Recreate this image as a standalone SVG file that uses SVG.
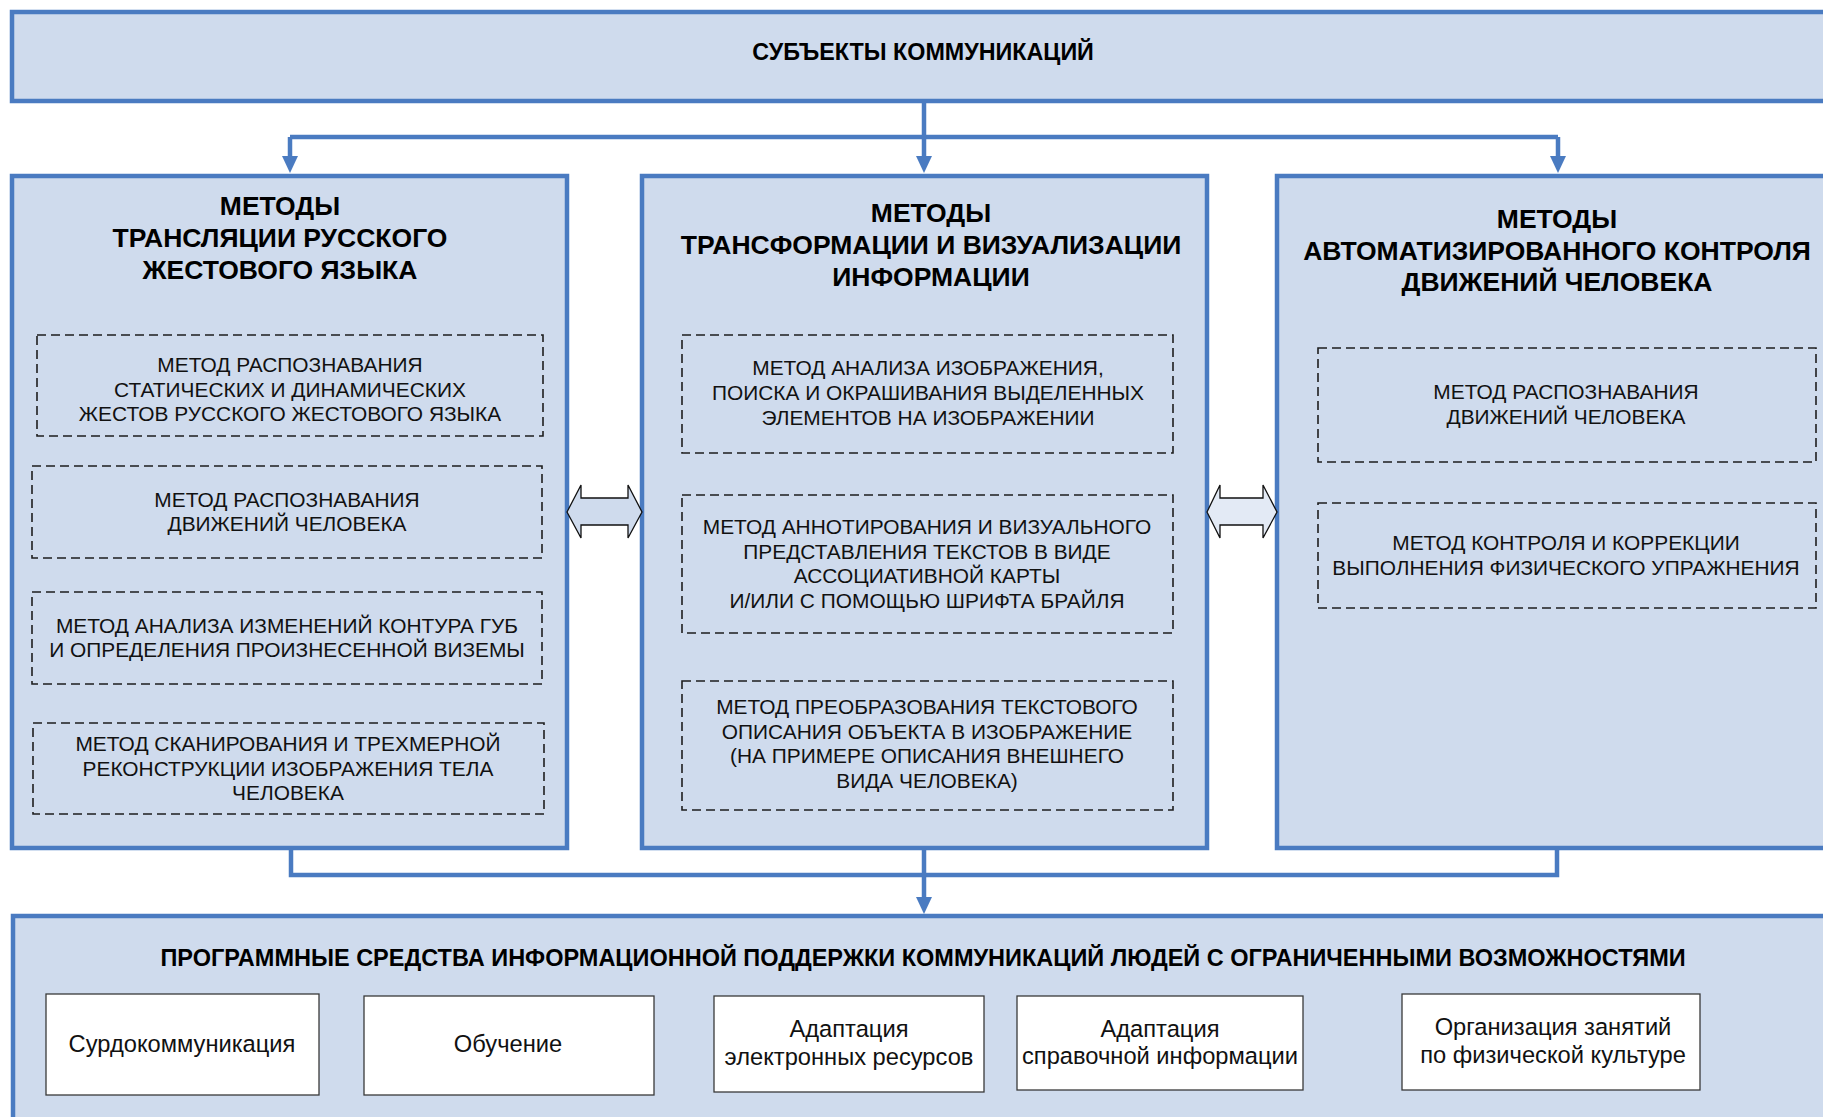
<svg xmlns="http://www.w3.org/2000/svg" width="1823" height="1117" viewBox="0 0 1823 1117">
<defs>
<style>
.box{fill:#cfdbed;stroke:#4a7bc1;stroke-width:4.5}
.dash{fill:none;stroke:#1e1e1e;stroke-width:1.6;stroke-dasharray:9 5}
.wbox{fill:#ffffff;stroke:#3a3a3a;stroke-width:1.3}
.conn{fill:none;stroke:#4a7bc1;stroke-width:4.5}
.dbl{stroke:#111;stroke-width:1.3;stroke-linejoin:miter}
text{font-family:"Liberation Sans",Arial,sans-serif;fill:#000;text-anchor:middle}
.title{font-weight:bold;font-size:26.5px}
.head{font-weight:bold;font-size:23.3px}
.txt{font-size:20.9px;fill:#111}
.lbl{font-size:23.7px;fill:#111}
</style>
<marker id="ah" markerUnits="userSpaceOnUse" viewBox="0 0 17 16" refX="0" refY="8" markerWidth="17" markerHeight="16" orient="auto">
<path d="M0,0 L17,8 L0,16 z" fill="#4a7bc1"/>
</marker>
</defs>
<rect width="1823" height="1117" fill="#ffffff"/>

<g id="subjects">
<rect class="box" x="12" y="12" width="1840" height="89"/>
<text class="head" x="923" y="60">СУБЪЕКТЫ КОММУНИКАЦИЙ</text>
</g>

<g id="col-translation">
<rect class="box" x="12" y="176" width="555" height="672"/>
<text class="title" x="280" y="215">МЕТОДЫ</text>
<text class="title" x="280" y="247">ТРАНСЛЯЦИИ РУССКОГО</text>
<text class="title" x="280" y="279">ЖЕСТОВОГО ЯЗЫКА</text>
</g>
<g id="m-gestures">
<rect class="dash" x="37" y="335" width="506" height="101"/>
<text class="txt" x="290" y="372">МЕТОД РАСПОЗНАВАНИЯ</text>
<text class="txt" x="290" y="397">СТАТИЧЕСКИХ И ДИНАМИЧЕСКИХ</text>
<text class="txt" x="290" y="421">ЖЕСТОВ РУССКОГО ЖЕСТОВОГО ЯЗЫКА</text>
</g>
<g id="m-motion-left">
<rect class="dash" x="32" y="466" width="510" height="92"/>
<text class="txt" x="287" y="507">МЕТОД РАСПОЗНАВАНИЯ</text>
<text class="txt" x="287" y="531">ДВИЖЕНИЙ ЧЕЛОВЕКА</text>
</g>
<g id="m-lips">
<rect class="dash" x="32" y="592" width="510" height="92"/>
<text class="txt" x="287" y="633">МЕТОД АНАЛИЗА ИЗМЕНЕНИЙ КОНТУРА ГУБ</text>
<text class="txt" x="287" y="657">И ОПРЕДЕЛЕНИЯ ПРОИЗНЕСЕННОЙ ВИЗЕМЫ</text>
</g>
<g id="m-scan">
<rect class="dash" x="33" y="723" width="511" height="91"/>
<text class="txt" x="288" y="751">МЕТОД СКАНИРОВАНИЯ И ТРЕХМЕРНОЙ</text>
<text class="txt" x="288" y="776">РЕКОНСТРУКЦИИ ИЗОБРАЖЕНИЯ ТЕЛА</text>
<text class="txt" x="288" y="800">ЧЕЛОВЕКА</text>
</g>

<g id="col-transformation">
<rect class="box" x="642" y="176" width="565" height="672"/>
<text class="title" x="931" y="222">МЕТОДЫ</text>
<text class="title" x="931" y="254">ТРАНСФОРМАЦИИ И ВИЗУАЛИЗАЦИИ</text>
<text class="title" x="931" y="286">ИНФОРМАЦИИ</text>
</g>
<g id="m-image">
<rect class="dash" x="682" y="335" width="491" height="118"/>
<text class="txt" x="928" y="375">МЕТОД АНАЛИЗА ИЗОБРАЖЕНИЯ,</text>
<text class="txt" x="928" y="400">ПОИСКА И ОКРАШИВАНИЯ ВЫДЕЛЕННЫХ</text>
<text class="txt" x="928" y="425">ЭЛЕМЕНТОВ НА ИЗОБРАЖЕНИИ</text>
</g>
<g id="m-annotation">
<rect class="dash" x="682" y="495" width="491" height="138"/>
<text class="txt" x="927" y="534">МЕТОД АННОТИРОВАНИЯ И ВИЗУАЛЬНОГО</text>
<text class="txt" x="927" y="559">ПРЕДСТАВЛЕНИЯ ТЕКСТОВ В ВИДЕ</text>
<text class="txt" x="927" y="583">АССОЦИАТИВНОЙ КАРТЫ</text>
<text class="txt" x="927" y="608">И/ИЛИ С ПОМОЩЬЮ ШРИФТА БРАЙЛЯ</text>
</g>
<g id="m-text2image">
<rect class="dash" x="682" y="681" width="491" height="129"/>
<text class="txt" x="927" y="714">МЕТОД ПРЕОБРАЗОВАНИЯ ТЕКСТОВОГО</text>
<text class="txt" x="927" y="739">ОПИСАНИЯ ОБЪЕКТА В ИЗОБРАЖЕНИЕ</text>
<text class="txt" x="927" y="763">(НА ПРИМЕРЕ ОПИСАНИЯ ВНЕШНЕГО</text>
<text class="txt" x="927" y="788">ВИДА ЧЕЛОВЕКА)</text>
</g>

<g id="col-control">
<rect class="box" x="1277" y="176" width="580" height="672"/>
<text class="title" x="1557" y="228">МЕТОДЫ</text>
<text class="title" x="1557" y="260">АВТОМАТИЗИРОВАННОГО КОНТРОЛЯ</text>
<text class="title" x="1557" y="291">ДВИЖЕНИЙ ЧЕЛОВЕКА</text>
</g>
<g id="m-motion-right">
<rect class="dash" x="1318" y="348" width="498" height="114"/>
<text class="txt" x="1566" y="399">МЕТОД РАСПОЗНАВАНИЯ</text>
<text class="txt" x="1566" y="424">ДВИЖЕНИЙ ЧЕЛОВЕКА</text>
</g>
<g id="m-exercise">
<rect class="dash" x="1318" y="503" width="498" height="105"/>
<text class="txt" x="1566" y="550">МЕТОД КОНТРОЛЯ И КОРРЕКЦИИ</text>
<text class="txt" x="1566" y="575">ВЫПОЛНЕНИЯ ФИЗИЧЕСКОГО УПРАЖНЕНИЯ</text>
</g>

<g id="software">
<rect class="box" x="13" y="916" width="1840" height="240"/>
<text class="head" x="923" y="966" style="font-size:23.5px">ПРОГРАММНЫЕ СРЕДСТВА ИНФОРМАЦИОННОЙ ПОДДЕРЖКИ КОММУНИКАЦИЙ ЛЮДЕЙ С ОГРАНИЧЕННЫМИ ВОЗМОЖНОСТЯМИ</text>
</g>
<g id="s-surdo">
<rect class="wbox" x="46" y="994" width="273" height="101"/>
<text class="lbl" x="182" y="1052">Сурдокоммуникация</text>
</g>
<g id="s-learning">
<rect class="wbox" x="364" y="996" width="290" height="99"/>
<text class="lbl" x="508" y="1052">Обучение</text>
</g>
<g id="s-eres">
<rect class="wbox" x="714" y="996" width="270" height="96"/>
<text class="lbl" x="849" y="1037">Адаптация</text>
<text class="lbl" x="849" y="1065">электронных ресурсов</text>
</g>
<g id="s-ref">
<rect class="wbox" x="1017" y="996" width="286" height="94"/>
<text class="lbl" x="1160" y="1037">Адаптация</text>
<text class="lbl" x="1160" y="1064">справочной информации</text>
</g>
<g id="s-sport">
<rect class="wbox" x="1402" y="994" width="298" height="96"/>
<text class="lbl" x="1553" y="1035">Организация занятий</text>
<text class="lbl" x="1553" y="1063">по физической культуре</text>
</g>

<g id="connectors">
<path class="conn" d="M290,137 H1558"/>
<path class="conn" d="M924,101 V156" marker-end="url(#ah)"/>
<path class="conn" d="M290,137 V156" marker-end="url(#ah)"/>
<path class="conn" d="M1558,137 V156" marker-end="url(#ah)"/>
<path class="conn" d="M291,848 V875 H1557 V848"/>
<path class="conn" d="M924,848 V897" marker-end="url(#ah)"/>
<polygon class="dbl" fill="#cfdbed" points="567,512 581,485 581,498 628,498 628,485 642,512 628,538 628,525 581,525 581,538"/>
<polygon class="dbl" fill="#e3eaf5" points="1207,512 1220,485 1220,498 1263,498 1263,485 1277,512 1263,538 1263,525 1220,525 1220,538"/>
</g>
</svg>
